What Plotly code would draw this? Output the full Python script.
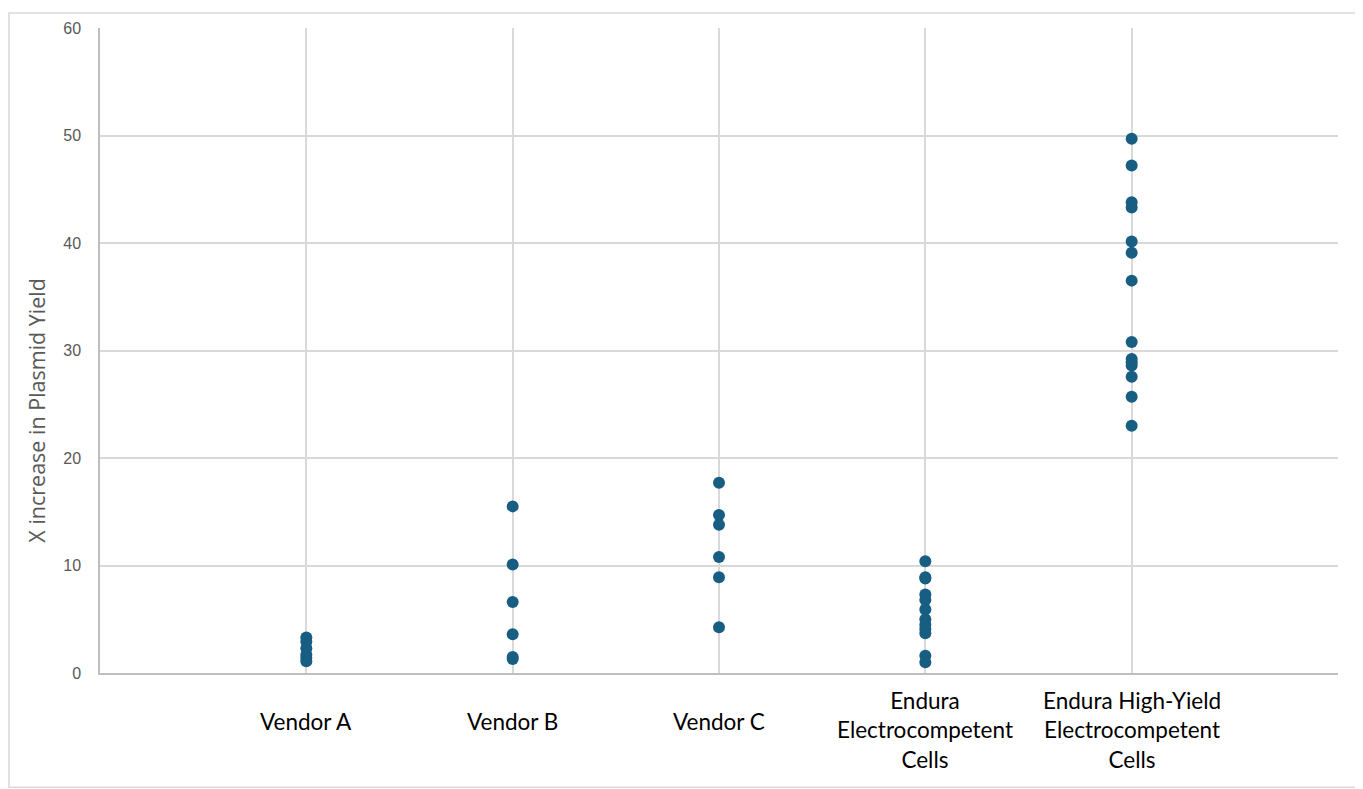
import plotly.graph_objects as go

categories = ["Vendor A", "Vendor B", "Vendor C",
              "Endura<br>Electrocompetent<br>Cells",
              "Endura High-Yield<br>Electrocompetent<br>Cells"]

vendor_a = [3.3, 2.9, 2.3, 1.7, 1.4, 1.1]
vendor_b = [15.5, 10.1, 6.6, 3.6, 1.5, 1.3]
vendor_c = [17.7, 14.7, 13.8, 10.8, 8.9, 4.25]
endura = [10.4, 8.9, 8.8, 7.3, 6.8, 5.9, 5.0, 4.5, 4.1, 3.7, 1.6, 1.0]
endura_hy = [49.7, 47.2, 43.8, 43.3, 40.15, 39.1, 36.5, 30.8, 29.2,
             28.9, 28.6, 27.55, 25.7, 23.0]

series = [vendor_a, vendor_b, vendor_c, endura, endura_hy]

xs, ys = [], []
for i, vals in enumerate(series):
    xs += [i + 1] * len(vals)
    ys += vals

fig = go.Figure(go.Scatter(
    x=xs, y=ys, mode="markers",
    marker=dict(color="#185e82", size=12),
    hoverinfo="y",
))

# category labels sit well below the axis, centred on each column
label_shift = [-48, -48, -48, -57, -57]
for i, name in enumerate(categories):
    fig.add_annotation(x=i + 1, xref="x", y=0, yref="paper", text=name,
                       showarrow=False, xanchor="center", yanchor="middle",
                       yshift=label_shift[i],
                       font=dict(family="Lato", size=22.5, color="#000000"))

# y title, placed like the original (a bit below the plot's middle)
fig.add_annotation(x=-63 / 1238, xref="paper", y=264 / 649, yref="paper",
                   text="X increase in Plasmid Yield", textangle=-90,
                   showarrow=False, xanchor="center", yanchor="middle",
                   font=dict(family="Open Sans", size=21.5, color="#595959"))

# light frame round the whole chart
fig.add_shape(type="rect", xref="paper", yref="paper",
              x0=-91 / 1238, x1=1 + 24 / 1238, y0=-115 / 649, y1=1 + 15 / 649,
              line=dict(color="#d9d9d9", width=1.5), layer="below")

fig.update_layout(
    width=1355, height=781,
    margin=dict(l=92, r=25, t=16, b=116),
    paper_bgcolor="white", plot_bgcolor="white",
    showlegend=False,
    xaxis=dict(range=[0, 6], dtick=1, showticklabels=False, showgrid=True,
               gridcolor="#d9d9d9", gridwidth=1.5, zeroline=False,
               showline=True, linecolor="#bfbfbf", linewidth=1.5),
    yaxis=dict(range=[0, 60], dtick=10, showgrid=True, gridcolor="#d9d9d9",
               gridwidth=1.5, zeroline=False, showline=True,
               linecolor="#bfbfbf", linewidth=1.5, ticks="",
               ticklabelstandoff=14,
               tickfont=dict(family="Liberation Sans", size=16, color="#595959")),
)

fig.write_html("out.html")
